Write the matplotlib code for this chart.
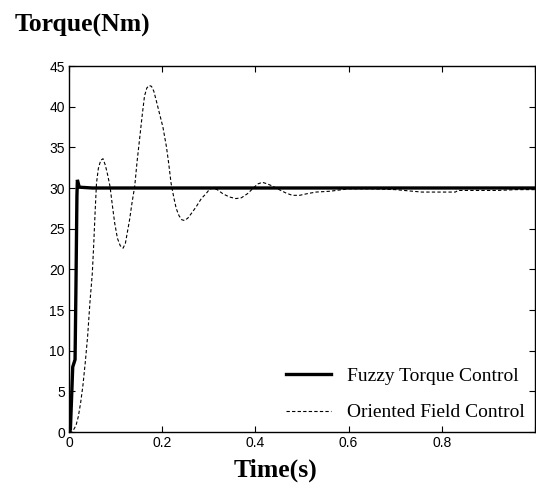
import matplotlib
matplotlib.use("Agg")
import matplotlib.pyplot as plt

# Fuzzy Torque Control (thick solid)
fuzzy_t = [0.0, 0.003, 0.008, 0.013, 0.015, 0.017, 0.018, 0.022, 0.05, 0.2, 0.4, 0.6, 0.8, 1.0]
fuzzy_v = [0.0, 0.3, 8.0, 8.9, 18.3, 29.0, 31.0, 30.1, 30.0, 30.0, 30.0, 30.0, 30.0, 30.0]

# Oriented Field Control (thin dashed)
ofc_t = [0.0, 0.005, 0.01, 0.015, 0.02, 0.025, 0.03, 0.035, 0.04, 0.045, 0.05,
         0.053, 0.056, 0.059, 0.063, 0.068, 0.073, 0.078, 0.083, 0.088, 0.093,
         0.098, 0.104, 0.110, 0.116, 0.121, 0.126, 0.130, 0.135, 0.141, 0.146,
         0.152, 0.157, 0.162, 0.167, 0.172, 0.177, 0.182, 0.187, 0.194, 0.2015,
         0.209, 0.214, 0.219, 0.225, 0.230, 0.236, 0.242, 0.248, 0.255, 0.263,
         0.273, 0.284, 0.294, 0.301, 0.308, 0.318, 0.330, 0.344, 0.358, 0.370,
         0.383, 0.394, 0.405, 0.415, 0.426, 0.438, 0.451, 0.465, 0.479, 0.495,
         0.511, 0.53, 0.56, 0.60, 0.65, 0.70, 0.757, 0.80, 0.829, 0.835, 0.88,
         0.92, 0.96, 1.0]
ofc_v = [0.0, 0.0, 0.3, 0.8, 1.9, 3.6, 5.8, 8.6, 11.8, 16.0, 19.5,
         23.0, 27.0, 30.6, 32.4, 33.4, 33.6, 32.8, 31.6, 30.2, 27.9,
         25.7, 23.8, 22.9, 22.6, 23.2, 24.8, 26.1, 28.1, 30.2, 33.2,
         36.3, 38.9, 41.3, 42.3, 42.6, 42.5, 41.9, 40.8, 39.2, 37.5,
         35.1, 33.0, 30.6, 28.8, 27.5, 26.6, 26.1, 26.0, 26.3, 26.9,
         27.7, 28.7, 29.3, 29.8, 30.0, 29.8, 29.3, 28.9, 28.7, 28.8,
         29.3, 29.9, 30.5, 30.7, 30.5, 30.2, 29.8, 29.4, 29.1, 29.1,
         29.3, 29.5, 29.6, 29.9, 29.9, 29.8, 29.5, 29.5, 29.5, 29.7, 29.7,
         29.7, 29.8, 29.8]

x_ticks = [0.0, 0.2, 0.4, 0.6, 0.8, 1.0]
x_tick_labels = ["0", "0.2", "0.4", "0.6", "0.8", ""]
y_ticks = [0, 5, 10, 15, 20, 25, 30, 35, 40, 45]
y_tick_labels = ["0", "5", "10", "15", "20", "25", "30", "35", "40", "45"]

W, H = 536, 490
fig = plt.figure(figsize=(W / 100, H / 100), dpi=100)
ax = fig.add_axes([69 / W, 1 - 432 / H, (535 - 69) / W, (432 - 66) / H])

ax.plot(fuzzy_t, fuzzy_v, color="black", lw=2.4, solid_joinstyle="miter",
        label="Fuzzy Torque Control", zorder=3)
ax.plot(ofc_t, ofc_v, color="black", lw=0.8, dashes=(3, 2),
        label="Oriented Field Control", zorder=2)

ax.set_xlim(0, 1.0)
ax.set_ylim(0, 45)
ax.set_xticks(x_ticks)
ax.set_xticklabels(x_tick_labels)
ax.set_yticks(y_ticks)
ax.set_yticklabels(y_tick_labels)
ax.tick_params(direction="in", length=4, width=0.8, top=True, right=True,
               labelsize=10, pad=3)
for lab in ax.get_xticklabels() + ax.get_yticklabels():
    lab.set_family("Liberation Sans")
for sp in ax.spines.values():
    sp.set_linewidth(1.0)

leg = ax.legend(loc="lower right", frameon=False,
                prop={"family": "Liberation Serif", "size": 14},
                handlelength=2.3, handletextpad=0.8, labelspacing=0.95,
                borderpad=0.4, borderaxespad=0.15)

fig.text(15 / W, 1 - 25 / H, "Torque(Nm)", family="Liberation Serif",
         weight="bold", fontsize=18.5, ha="left", va="center")
fig.text(275 / W, 1 - 470 / H, "Time(s)", family="Liberation Serif",
         weight="bold", fontsize=18.5, ha="center", va="center")

fig.savefig("out.png", dpi=100)
